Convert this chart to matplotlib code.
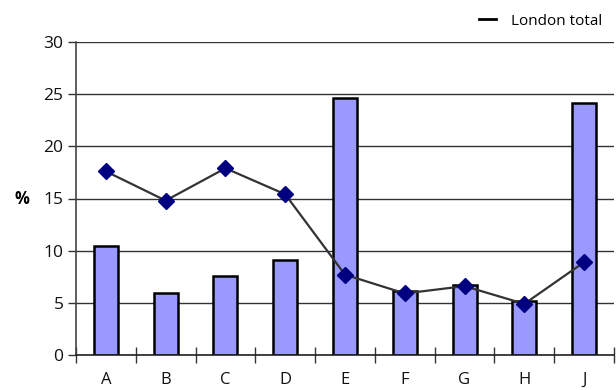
import matplotlib
matplotlib.use("Agg")
import matplotlib.pyplot as plt
import numpy as np

categories = ["A", "B", "C", "D", "E", "F", "G", "H", "J"]
bar_values = [10.4, 5.9, 7.6, 9.1, 24.6, 6.1, 6.7, 5.2, 24.2]
london_total = [17.6, 14.8, 17.9, 15.4, 7.7, 5.9, 6.6, 4.9, 8.9]
y_ticks = [0, 5, 10, 15, 20, 25, 30]

plt.rcParams['font.family'] = ['Open Sans', 'DejaVu Sans']

fig = plt.figure(figsize=(6.16, 3.90), dpi=100)
ax = fig.add_axes([76/616, 1 - 355/390, (614-76)/616, (355-42)/390])

x = np.arange(len(categories))
ax.bar(x, bar_values, width=0.4, color="#9999FF", edgecolor="black", linewidth=1.8, zorder=2)
line, = ax.plot(x, london_total, color="#333333", linewidth=1.6, marker="D", markersize=8,
                markerfacecolor="#000080", markeredgecolor="#000080", zorder=3)

ax.set_xlim(-0.5, len(categories) - 0.5)
ax.set_ylim(0, 30)
ax.set_yticks(y_ticks)
ax.set_yticklabels([str(v) for v in y_ticks], fontsize=12.5, color="#111111")
ax.yaxis.grid(True, color="#333333", linewidth=1.0, zorder=0)
ax.set_axisbelow(True)

ax.set_xticks(x)
ax.set_xticklabels(categories, fontsize=12, color="#111111")
ax.tick_params(axis="x", which="major", length=0, pad=12)
ax.set_xticks(np.arange(-0.5, len(categories)), minor=True)
ax.tick_params(axis="x", which="minor", length=12, direction="inout", width=1.0, color="#333333")
ax.tick_params(axis="y", length=6, direction="out", width=1.0, color="#333333", pad=3)

for s in ["top", "right"]:
    ax.spines[s].set_visible(False)
ax.spines["left"].set_color("#444444")
ax.spines["left"].set_linewidth(1.2)
ax.spines["bottom"].set_color("#222222")
ax.spines["bottom"].set_linewidth(1.2)

ax.set_ylabel("%", rotation=0, fontsize=12, fontweight="bold", va="center", ha="center")
ax.yaxis.set_label_coords(-0.1, 0.5)

leg_handle = plt.Line2D([], [], color="black", linewidth=2)
fig.legend([leg_handle], ["London total"], loc="upper right", bbox_to_anchor=(1.0, 1.0),
           frameon=False, fontsize=11, handlelength=1.1, handletextpad=1.0)

fig.savefig("out.png", dpi=100)
